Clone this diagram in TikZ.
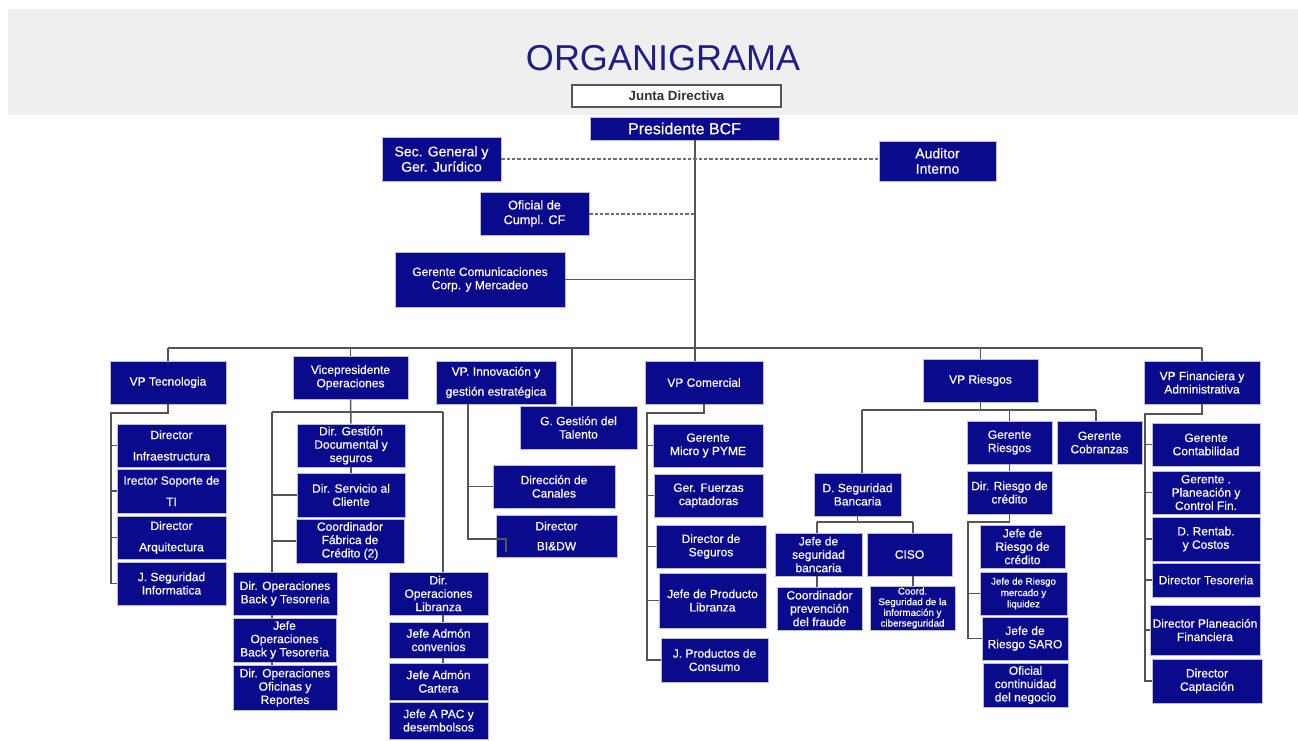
\documentclass[tikz,border=0pt]{standalone}
\usepackage{fontspec}
\setmainfont{Liberation Sans}
\newfontfamily\boxfont[FakeBold=0.5]{Liberation Sans}
\definecolor{navy}{RGB}{10,10,140}
\definecolor{hdr}{RGB}{239,239,239}
\definecolor{ttl}{RGB}{30,30,135}
\definecolor{lnc}{RGB}{85,85,85}
\definecolor{boxedge}{RGB}{190,190,210}
\tikzset{
 box/.style={draw=boxedge, line width=0.6pt, fill=navy, text=white, align=center, inner sep=1pt, font=\boxfont\fontsize{9}{10}\selectfont},
 conn/.style={draw=lnc, line width=1.1pt},
 dconn/.style={draw=lnc!85, line width=1.5pt, dash pattern=on 2.5pt off 1.5pt},
}
\newcommand\bx[7][]{%
 \pgfmathsetmacro\bxw{(#5-#3)*0.75}%
 \pgfmathsetmacro\bxh{(#6-#4)*0.75}%
 \node[box,minimum width=\bxw pt,minimum height=\bxh pt,#1] (#2) at ({(#3+#5)/2},{(#4+#6)/2}) {#7};}
\begin{document}
\begin{tikzpicture}[x=0.75pt,y=-0.75pt]
\useasboundingbox (0,0) rectangle (1298,740);
\fill[white] (0,0) rectangle (1298,740);
% header
\fill[hdr] (8,9) rectangle (1298,115);
\node[text=ttl, font=\fontsize{27}{30}\selectfont] (title) at (663,58) {ORGANIGRAMA};
\node[draw=lnc, line width=1pt, fill=white, minimum width=156.75pt, minimum height=16.5pt, inner sep=0pt, text=black!80, font=\bfseries\fontsize{10}{11}\selectfont] (junta) at (676.5,96) {Junta Directiva};

% top level
\bx[font=\boxfont\fontsize{12}{13}\selectfont]{pres}{590}{117}{779}{140}{Presidente BCF}
\bx[font=\boxfont\fontsize{10.5}{11.5}\selectfont]{sec}{382}{137}{501}{181}{Sec. General y\\Ger. Jurídico}
\bx[font=\boxfont\fontsize{10.5}{11.5}\selectfont]{aud}{879}{141}{996}{181}{Auditor\\Interno}
\bx[font=\boxfont\fontsize{9.5}{11}\selectfont]{ofi}{480}{192}{589}{235}{Oficial de\\Cumpl. CF}
\bx{gcom}{395}{252}{565}{307}{Gerente Comunicaciones\\Corp. y Mercadeo}

% VPs
\bx{vptec}{110}{361}{226}{404}{VP Tecnologia}
\bx{vpop}{293}{356}{408}{399}{Vicepresidente\\Operaciones}
\bx{innov}{436}{361}{556}{404}{VP. Innovación y\\[5pt]gestión estratégica}
\bx{talento}{520}{406}{637}{449}{G. Gestión del\\Talento}
\bx{vpcom}{645}{361}{763}{404}{VP Comercial}
\bx{vpr}{923}{359}{1038}{402}{VP Riesgos}
\bx{vpf}{1144}{361}{1260}{404}{VP Financiera y\\Administrativa}

% Tecnologia
\bx{infra}{117}{424}{226}{467}{Director\\[6pt]Infraestructura}
\bx{soporte}{117}{469}{226}{513}{Irector Soporte de\\[6pt]TI}
\bx{arq}{117}{516}{226}{559}{Director\\[6pt]Arquitectura}
\bx{jseg}{117}{562}{226}{605}{J. Seguridad\\Informatica}

% Operaciones
\bx{gestion}{297}{424}{405}{467}{Dir. Gestión\\Documental y\\seguros}
\bx{servicio}{297}{473}{405}{517}{Dir. Servicio al\\Cliente}
\bx{fabrica}{296}{519}{404}{563}{Coordinador\\Fábrica de\\Crédito (2)}
\bx{dirback}{233}{572}{337}{615}{Dir. Operaciones\\Back y Tesoreria}
\bx{jefeback}{233}{618}{336}{662}{Jefe\\Operaciones\\Back y Tesoreria}
\bx{oficinas}{233}{665}{337}{710}{Dir. Operaciones\\Oficinas y\\Reportes}
\bx{libranza}{389}{572}{488}{615}{Dir.\\Operaciones\\Libranza}
\bx{conv}{389}{622}{488}{658}{Jefe Admón\\convenios}
\bx{cartera}{389}{663}{488}{700}{Jefe Admón\\Cartera}
\bx{pac}{389}{702}{488}{739}{Jefe A PAC y\\desembolsos}

% Innovacion
\bx{canales}{493}{465}{615}{508}{Dirección de\\Canales}
\bx{bidw}{496}{515}{617}{557}{Director\\[5pt]BI\&DW}

% Comercial
\bx{micro}{653}{424}{763}{467}{Gerente\\Micro y PYME}
\bx{fuerzas}{654}{474}{763}{517}{Ger. Fuerzas\\captadoras}
\bx{seguros}{656}{525}{766}{568}{Director de\\Seguros}
\bx{prodlib}{659}{573}{766}{628}{Jefe de Producto\\Libranza}
\bx{consumo}{661}{638}{768}{682}{J. Productos de\\Consumo}

% Riesgos
\bx{dseg}{814}{473}{901}{516}{D. Seguridad\\Bancaria}
\bx{jsb}{775}{533}{862}{576}{Jefe de\\seguridad\\bancaria}
\bx{ciso}{867}{533}{952}{576}{CISO}
\bx{cpf}{777}{587}{862}{630}{Coordinador\\prevención\\del fraude}
\bx[font=\boxfont\fontsize{7.3}{8}\selectfont]{coordsi}{870}{586}{955}{630}{Coord.\\Seguridad de la\\información y\\ciberseguridad}
\bx{griesgo}{967}{421}{1052}{464}{Gerente\\Riesgos}
\bx{cobr}{1057}{421}{1142}{464}{Gerente\\Cobranzas}
\bx{drc}{967}{471}{1052}{514}{Dir. Riesgo de\\crédito}
\bx{jrc}{980}{525}{1065}{568}{Jefe de\\Riesgo de\\crédito}
\bx[font=\boxfont\fontsize{7.3}{8.5}\selectfont]{merc}{980}{572}{1067}{615}{Jefe de Riesgo\\mercado y\\liquidez}
\bx{saro}{982}{617}{1068}{660}{Jefe de\\Riesgo SARO}
\bx{ocn}{983}{663}{1068}{707}{Oficial\\continuidad\\del negocio}

% Financiera
\bx{conta}{1152}{423}{1260}{466}{Gerente\\Contabilidad}
\bx{planea}{1152}{471}{1260}{514}{Gerente .\\Planeación y\\Control Fin.}
\bx{rentab}{1152}{517}{1260}{561}{D. Rentab.\\y Costos}
\bx{teso}{1152}{563}{1260}{597}{Director Tesoreria}
\bx{dplan}{1150}{605}{1260}{655}{Director Planeación\\Financiera}
\bx{capt}{1152}{659}{1262}{703}{Director\\Captación}

% ---------- connectors ----------
\coordinate (mtop) at (695,140);
\coordinate (busL) at (168,348);
\coordinate (busR) at (1202,348);
\draw[conn] (mtop) -- (mtop |- vpcom.north);
\draw[conn] (busL) -- (busR);
\draw[dconn] (sec.east) -- (sec.east -| aud.west);
\draw[dconn] (ofi.east) -- (ofi.east -| mtop);
\draw[conn] (gcom.east) -- (gcom.east -| mtop);
\foreach \n in {vptec,vpop,vpr,vpf}
  \draw[conn] (\n.north) -- (\n.north |- busL);
\coordinate (talT) at (572,348);
\draw[conn] (talT) -- (talT |- talento.north);

% Tecnologia
\coordinate (tecL) at (111,413);
\draw[conn] (vptec.south) |- (tecL) |- (jseg.west);
\foreach \n in {infra,soporte,arq} \draw[conn] (\n.west) -- (\n.west -| tecL);

% Operaciones
\coordinate (opL) at (272,412);
\coordinate (opR) at (443,412);
\draw[conn] (vpop.south) -- (gestion.north);
\draw[conn] (gestion.south) -- (servicio.north);
\draw[conn] (opL) -- (opR);
\draw[conn] (opL) -- (opL |- dirback.north);
\draw[conn] (servicio.west) -- (servicio.west -| opL);
\draw[conn] (fabrica.west) -- (fabrica.west -| opL);
\draw[conn] (dirback.south -| opL) -- (jefeback.north -| opL);
\draw[conn] (jefeback.south -| opL) -- (oficinas.north -| opL);
\draw[conn] (opR) -- (opR |- libranza.north);
\draw[conn] (libranza.south -| opR) -- (conv.north -| opR);
\draw[conn] (conv.south -| opR) -- (cartera.north -| opR);

% Innovacion
\coordinate (innL) at (468,404);
\coordinate (biT) at (506,539);
\draw[conn] (innL) |- (canales.west);
\draw[conn] (innL) |- (biT) -- ++(0,13);

% Comercial
\coordinate (comL) at (647,413);
\draw[conn] (vpcom.south) |- (comL) |- (consumo.west);
\foreach \n in {micro,fuerzas,seguros,prodlib} \draw[conn] (\n.west) -- (\n.west -| comL);

% Riesgos
\coordinate (rL) at (862,410);
\coordinate (rR) at (1096,410);
\draw[conn] (vpr.south) -- (vpr.south |- rL);
\draw[conn] (rL) -- (rR);
\draw[conn] (rL) -- (rL |- dseg.north);
\draw[conn] (rR) -- (rR |- cobr.north);
\draw[conn] (griesgo.north) -- (griesgo.north |- rL);
\coordinate (sL) at (817,522);
\coordinate (sR) at (913,522);
\draw[conn] (dseg.south) -- (dseg.south |- sL);
\draw[conn] (sL) -- (sR);
\draw[conn] (sL) -- (sL |- jsb.north);
\draw[conn] (sR) -- (sR |- ciso.north);
\draw[conn] (jsb.south -| sL) -- (cpf.north -| sL);
\draw[conn] (ciso.south -| sR) -- (coordsi.north -| sR);
\draw[conn] (griesgo.south) -- (drc.north);
\coordinate (cL) at (968,522);
\draw[conn] (drc.south) |- (cL) |- (saro.west);
\draw[conn] (merc.west) -- (merc.west -| cL);

% Financiera
\coordinate (fL) at (1145,414);
\draw[conn] (vpf.south) |- (fL) |- (capt.west);
\foreach \n in {conta,planea,rentab,teso,dplan} \draw[conn] (\n.west) -- (\n.west -| fL);
\end{tikzpicture}
\end{document}
